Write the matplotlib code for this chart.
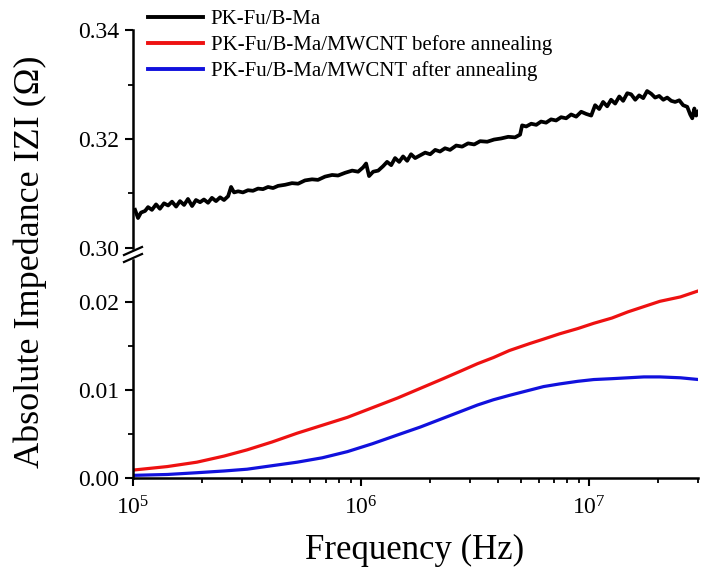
import matplotlib
matplotlib.use('Agg')
import matplotlib.pyplot as plt
from matplotlib.lines import Line2D
from matplotlib.ticker import MultipleLocator, LogLocator, NullFormatter
import numpy as np

plt.rcParams['font.family'] = ['Liberation Serif', 'DejaVu Serif']
plt.rcParams['mathtext.fontset'] = 'custom'
plt.rcParams['mathtext.rm'] = 'Liberation Serif'
plt.rcParams['mathtext.it'] = 'Liberation Serif:italic'

# ---- data (frequency as log10 exponent, impedance in ohm) ----
pk_exp = [5.009, 5.022, 5.035, 5.053, 5.066, 5.083, 5.101, 5.118, 5.136, 5.154,
          5.171, 5.189, 5.206, 5.224, 5.241, 5.259, 5.276, 5.294, 5.311, 5.329,
          5.346, 5.364, 5.382, 5.399, 5.417, 5.430, 5.443, 5.461, 5.482, 5.504,
          5.526, 5.548, 5.570, 5.592, 5.614, 5.636, 5.667, 5.697, 5.724, 5.754,
          5.785, 5.811, 5.842, 5.873, 5.899, 5.930, 5.961, 5.987, 6.009, 6.022,
          6.035, 6.053, 6.075, 6.096, 6.114, 6.132, 6.149, 6.167, 6.184, 6.202,
          6.219, 6.237, 6.259, 6.281, 6.303, 6.325, 6.346, 6.368, 6.390, 6.417,
          6.443, 6.469, 6.496, 6.522, 6.553, 6.583, 6.614, 6.645, 6.675, 6.697,
          6.706, 6.724, 6.746, 6.768, 6.789, 6.811, 6.833, 6.855, 6.877, 6.899,
          6.921, 6.943, 6.965, 6.987, 7.009, 7.026, 7.044, 7.061, 7.079, 7.096,
          7.114, 7.132, 7.149, 7.167, 7.184, 7.202, 7.219, 7.237, 7.254, 7.272,
          7.289, 7.307, 7.325, 7.342, 7.360, 7.377, 7.395, 7.412, 7.430, 7.443,
          7.452, 7.461, 7.469, 7.478]
pk_z = [0.3070, 0.3055, 0.3065, 0.3068, 0.3075, 0.3070, 0.3080, 0.3072, 0.3082, 0.3078,
        0.3085, 0.3076, 0.3086, 0.3079, 0.3090, 0.3077, 0.3088, 0.3084, 0.3089, 0.3083,
        0.3092, 0.3086, 0.3093, 0.3088, 0.3095, 0.3112, 0.3102, 0.3104, 0.3102, 0.3106,
        0.3105, 0.3109, 0.3108, 0.3112, 0.3110, 0.3114, 0.3116, 0.3119, 0.3118, 0.3124,
        0.3126, 0.3125, 0.3131, 0.3134, 0.3133, 0.3138, 0.3142, 0.3140, 0.3148, 0.3155,
        0.3132, 0.3140, 0.3142, 0.3150, 0.3158, 0.3152, 0.3165, 0.3158, 0.3168, 0.3160,
        0.3172, 0.3165, 0.3170, 0.3175, 0.3172, 0.3180, 0.3177, 0.3183, 0.3180, 0.3188,
        0.3186, 0.3192, 0.3190, 0.3196, 0.3195, 0.3199, 0.3201, 0.3204, 0.3203, 0.3208,
        0.3225, 0.3223, 0.3228, 0.3226, 0.3232, 0.3230, 0.3236, 0.3234, 0.3240, 0.3238,
        0.3245, 0.3241, 0.3250, 0.3246, 0.3243, 0.3262, 0.3255, 0.3268, 0.3260, 0.3272,
        0.3265, 0.3278, 0.3270, 0.3284, 0.3282, 0.3272, 0.3280, 0.3275, 0.3288, 0.3283,
        0.3276, 0.3279, 0.3272, 0.3276, 0.3270, 0.3268, 0.3271, 0.3262, 0.3259, 0.3245,
        0.3238, 0.3256, 0.3243, 0.3250]

cnt_exp = [5.00, 5.15, 5.28, 5.40, 5.50, 5.61, 5.72, 5.83, 5.94, 6.05, 6.16,
           6.26, 6.36, 6.44, 6.51, 6.58, 6.65, 6.74, 6.80, 6.87, 6.95, 7.02,
           7.10, 7.17, 7.24, 7.31, 7.40, 7.48]
before_z = [0.0009, 0.0013, 0.0018, 0.0025, 0.0032, 0.0041, 0.0051, 0.0060, 0.0069, 0.0080, 0.0091,
            0.0102, 0.0113, 0.0122, 0.0130, 0.0137, 0.0145, 0.0153, 0.0158, 0.0164, 0.0170, 0.0176,
            0.0182, 0.0189, 0.0195, 0.0201, 0.0206, 0.0213]
after_z = [0.0003, 0.0004, 0.0006, 0.0008, 0.0010, 0.0014, 0.0018, 0.0023, 0.0030, 0.0039, 0.0049,
           0.0058, 0.0068, 0.0076, 0.0083, 0.0089, 0.0094, 0.0100, 0.0104, 0.0107, 0.0110, 0.0112,
           0.0113, 0.0114, 0.0115, 0.0115, 0.0114, 0.0112]

labels = ['PK-Fu/B-Ma', 'PK-Fu/B-Ma/MWCNT before annealing', 'PK-Fu/B-Ma/MWCNT after annealing']
colors = ['black', '#ee1111', '#1111dd']

fig = plt.figure(figsize=(7.1, 5.82), dpi=100)
L, R = 133 / 710, 698 / 710
ax_top = fig.add_axes([L, 1 - 248 / 582, R - L, (248 - 30) / 582])
ax_bot = fig.add_axes([L, 1 - 478 / 582, R - L, (478 - 260) / 582])

ax_top.plot(10 ** np.array(pk_exp), pk_z, color=colors[0], lw=2.7)
ax_bot.plot(10 ** np.array(cnt_exp), before_z, color=colors[1], lw=2.3)
ax_bot.plot(10 ** np.array(cnt_exp), after_z, color=colors[2], lw=2.3)

for ax in (ax_top, ax_bot):
    ax.set_xscale('log')
    ax.set_xlim(1e5, 3e7)
    ax.spines['top'].set_visible(False)
    ax.spines['right'].set_visible(False)
    ax.spines['left'].set_linewidth(1.8)
    ax.spines['bottom'].set_linewidth(1.8)
    ax.tick_params(axis='both', which='major', direction='out', length=6, width=1.5,
                   labelsize=17, pad=4)
    ax.tick_params(axis='both', which='minor', direction='out', length=3.5, width=1.3)

ax_top.spines['bottom'].set_visible(False)
ax_top.tick_params(axis='x', which='both', bottom=False, labelbottom=False)
ax_top.set_ylim(0.30, 0.34)
ax_top.yaxis.set_major_locator(MultipleLocator(0.02))
ax_top.yaxis.set_minor_locator(MultipleLocator(0.01))
ax_top.yaxis.set_major_formatter(plt.FormatStrFormatter('%.2f'))

ax_bot.set_ylim(0, 0.0248)
ax_bot.yaxis.set_major_locator(MultipleLocator(0.01))
ax_bot.yaxis.set_minor_locator(MultipleLocator(0.005))
ax_bot.yaxis.set_major_formatter(plt.FormatStrFormatter('%.2f'))
ax_bot.xaxis.set_minor_locator(LogLocator(base=10, subs=np.arange(2, 10)))
ax_bot.xaxis.set_minor_formatter(NullFormatter())
ax_bot.tick_params(axis='x', which='major', pad=7)

# break marks on the left spine
for yb in (251, 258):
    fig.add_artist(Line2D([L - 9 / 710, L + 9 / 710],
                          [1 - (yb + 4) / 582, 1 - (yb - 4) / 582],
                          color='black', lw=1.6))

handles = [Line2D([], [], color=c, lw=2.8) for c in colors]
fig.legend(handles, labels, loc='upper left', bbox_to_anchor=(140 / 710, 1 - 1 / 582),
           frameon=False, fontsize=15, handlelength=2.6, handletextpad=0.4,
           labelspacing=0.3, borderaxespad=0)

fig.text(415 / 710, 1 - 550 / 582, 'Frequency (Hz)', ha='center', va='center', fontsize=25)
fig.text(30 / 710, 1 - 262 / 582, 'Absolute Impedance IZI (\u03a9)', ha='center', va='center',
         rotation=90, fontsize=26)

fig.savefig('out.png', dpi=100)
